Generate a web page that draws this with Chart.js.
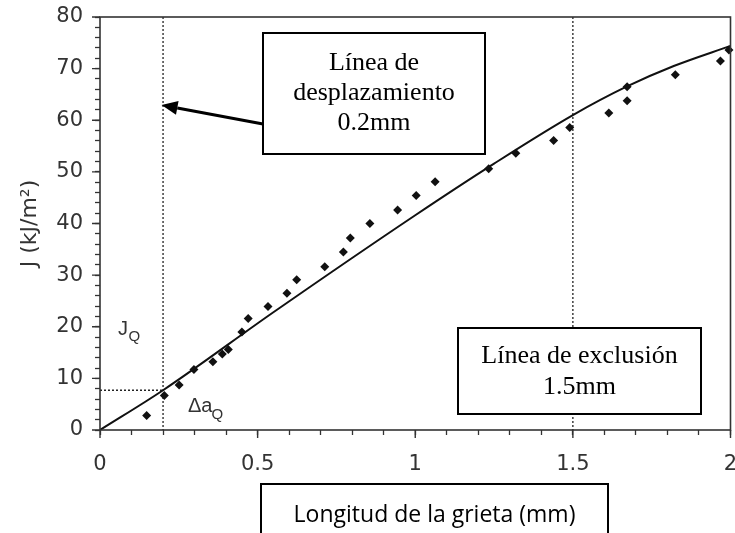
<!DOCTYPE html>
<html>
<head>
<meta charset="utf-8">
<script src="https://cdn.jsdelivr.net/npm/chart.js@4/dist/chart.umd.min.js"></script>
<style>
  html, body { margin: 0; padding: 0; background: #ffffff; }
  #wrap { width: 735px; height: 533px; position: relative; }
</style>
</head>
<body>
<div id="wrap"><canvas id="c" width="735" height="533"></canvas></div>
<script>
// Measured crack extension Δa (mm) and J-integral (kJ/m²)
const crackExt = [0.148, 0.204, 0.251, 0.298, 0.358, 0.388, 0.407, 0.450, 0.470, 0.533,
                  0.593, 0.624, 0.713, 0.772, 0.794, 0.856, 0.944, 1.003, 1.063, 1.233,
                  1.319, 1.439, 1.490, 1.614, 1.672, 1.672, 1.825, 1.968, 1.995];
const jMeasured = [2.8, 6.7, 8.7, 11.7, 13.2, 14.7, 15.6, 19.0, 21.6, 23.9,
                   26.5, 29.1, 31.6, 34.5, 37.2, 40.0, 42.6, 45.4, 48.1, 50.6,
                   53.6, 56.1, 58.6, 61.4, 63.8, 66.5, 68.8, 71.5, 73.6];

// Fitted J-R curve
const fitExt = [0, 0.2, 0.55, 1.0, 1.25, 1.5, 1.67, 1.82, 2.0];
const fitJ   = [0, 7.7, 22.8, 41.6, 51.6, 61.0, 66.5, 70.5, 74.4];

// Axis ticks
const xMajorTicks = [0, 0.5, 1, 1.5, 2];
const yMajorTicks = [0, 10, 20, 30, 40, 50, 60, 70, 80];

// Construction lines
const offsetLineAt = 0.2;     // 0.2 mm offset line
const exclusionLineAt = 1.5;  // 1.5 mm exclusion line
const jQ = 7.7;               // J at the offset intersection

const TICK_FONT = '"DejaVu Sans", sans-serif';
const SERIF = '"Liberation Serif", "Times New Roman", serif';
const LABEL_FONT = '"Liberation Sans", Arial, sans-serif';
const AXIS_COLOR = '#333';

function isMajor(v, list) {
  return list.some(m => Math.abs(m - v) < 1e-6);
}

function noScalePadding(s) {
  s.paddingLeft = 0; s.paddingRight = 0; s.paddingTop = 0; s.paddingBottom = 0;
}

const decor = {
  id: 'decor',
  beforeDatasetsDraw(chart) {
    const { ctx, chartArea: a, scales: { x, y } } = chart;
    ctx.save();
    ctx.strokeStyle = '#222';
    ctx.lineWidth = 1.3;
    ctx.setLineDash([2, 2]);
    const px02 = x.getPixelForValue(offsetLineAt);
    const px15 = x.getPixelForValue(exclusionLineAt);
    const pyQ = y.getPixelForValue(jQ);
    ctx.beginPath();
    ctx.moveTo(px02, a.top); ctx.lineTo(px02, a.bottom);
    ctx.moveTo(px15, a.top); ctx.lineTo(px15, a.bottom);
    ctx.moveTo(a.left, pyQ); ctx.lineTo(px02, pyQ);
    ctx.stroke();
    ctx.restore();
  },
  afterDatasetsDraw(chart) {
    const { ctx, chartArea: a, scales: { x, y } } = chart;
    ctx.save();

    // frame
    ctx.strokeStyle = AXIS_COLOR;
    ctx.lineWidth = 1.6;
    ctx.strokeRect(a.left, a.top, a.right - a.left, a.bottom - a.top);

    // longer marks at the labelled ticks
    ctx.lineWidth = 1.4;
    ctx.beginPath();
    xMajorTicks.forEach(v => {
      const p = x.getPixelForValue(v);
      ctx.moveTo(p, a.bottom); ctx.lineTo(p, a.bottom + 8);
    });
    yMajorTicks.forEach(v => {
      const p = y.getPixelForValue(v);
      ctx.moveTo(a.left, p); ctx.lineTo(a.left - 8, p);
    });
    ctx.stroke();

    // y axis title
    ctx.save();
    ctx.translate(30, (a.top + a.bottom) / 2);
    ctx.rotate(-Math.PI / 2);
    ctx.fillStyle = AXIS_COLOR;
    ctx.font = '22px ' + TICK_FONT;
    ctx.textAlign = 'center';
    ctx.textBaseline = 'middle';
    ctx.fillText('J (kJ/m²)', 0, 0);
    ctx.restore();

    // J_Q and Δa_Q labels
    ctx.fillStyle = AXIS_COLOR;
    ctx.textAlign = 'left';
    ctx.textBaseline = 'alphabetic';
    ctx.font = '20px ' + LABEL_FONT;
    ctx.fillText('J', 118, 335);
    ctx.fillText('Δa', 188, 411.5);
    ctx.font = '15px ' + LABEL_FONT;
    ctx.fillText('Q', 128.5, 341);
    ctx.fillText('Q', 211.5, 418.5);

    // arrow to the offset line
    const tipX = x.getPixelForValue(offsetLineAt) - 1.5;
    const tipY = 105;
    const tailX = 263, tailY = 124;
    const ang = Math.atan2(tipY - tailY, tipX - tailX);
    const headLen = 16, headHalf = 7;
    const bx = tipX - headLen * Math.cos(ang), by = tipY - headLen * Math.sin(ang);
    ctx.strokeStyle = '#000';
    ctx.lineWidth = 3;
    ctx.beginPath();
    ctx.moveTo(tailX, tailY); ctx.lineTo(bx, by);
    ctx.stroke();
    ctx.fillStyle = '#000';
    ctx.beginPath();
    ctx.moveTo(tipX, tipY);
    ctx.lineTo(bx + headHalf * Math.sin(ang), by - headHalf * Math.cos(ang));
    ctx.lineTo(bx - headHalf * Math.sin(ang), by + headHalf * Math.cos(ang));
    ctx.closePath();
    ctx.fill();

    // annotation boxes
    function box(x0, y0, x1, y1, lines, font) {
      ctx.fillStyle = '#fff';
      ctx.fillRect(x0, y0, x1 - x0, y1 - y0);
      ctx.strokeStyle = '#000';
      ctx.lineWidth = 2;
      ctx.strokeRect(x0, y0, x1 - x0, y1 - y0);
      ctx.fillStyle = '#000';
      ctx.font = font;
      ctx.textAlign = 'center';
      ctx.textBaseline = 'alphabetic';
      lines.forEach(l => ctx.fillText(l.t, (x0 + x1) / 2, l.y));
    }
    box(263, 33, 485, 154,
        [{ t: 'Línea de', y: 70 }, { t: 'desplazamiento', y: 99.5 }, { t: '0.2mm', y: 130 }],
        '26px ' + SERIF);
    box(458, 328, 701, 414,
        [{ t: 'Línea de exclusión', y: 362.5 }, { t: '1.5mm', y: 393.5 }],
        '26px ' + SERIF);
    box(261, 484, 608, 545,
        [{ t: 'Longitud de la grieta (mm)', y: 521.5 }],
        '23px "Open Sans", "Noto Sans", sans-serif');

    ctx.restore();
  }
};

// minor tick marks drawn by the scales themselves
const tickGrid = {
  display: true, drawOnChartArea: false, drawTicks: true,
  tickLength: 5, tickWidth: 1.3, tickColor: AXIS_COLOR
};

new Chart(document.getElementById('c'), {
  type: 'scatter',
  data: {
    datasets: [
      {
        label: 'Ajuste',
        data: fitExt.map((v, i) => ({ x: v, y: fitJ[i] })),
        showLine: true,
        borderColor: '#111',
        borderWidth: 2,
        pointRadius: 0,
        cubicInterpolationMode: 'monotone',
        order: 2
      },
      {
        label: 'Datos',
        data: crackExt.map((v, i) => ({ x: v, y: jMeasured[i] })),
        pointStyle: 'rectRot',
        pointRadius: 4.5,
        backgroundColor: '#111',
        borderColor: '#111',
        borderWidth: 0,
        clip: false,
        order: 1
      }
    ]
  },
  options: {
    responsive: false,
    animation: false,
    devicePixelRatio: 1,
    layout: { padding: { top: 17, right: 4, left: 0, bottom: 0 } },
    plugins: { legend: { display: false }, tooltip: { enabled: false } },
    scales: {
      x: {
        type: 'linear', min: 0, max: 2,
        grid: tickGrid,
        border: { display: false },
        ticks: {
          stepSize: 0.1, autoSkip: false, maxRotation: 0, minRotation: 0,
          color: AXIS_COLOR, padding: 17,
          font: { family: TICK_FONT, size: 21 },
          callback: v => isMajor(v, xMajorTicks) ? String(Math.round(v * 10) / 10) : ''
        },
        afterFit: s => { s.height = 103; noScalePadding(s); }
      },
      y: {
        type: 'linear', min: 0, max: 80,
        grid: tickGrid,
        border: { display: false },
        ticks: {
          stepSize: 2, autoSkip: false,
          color: AXIS_COLOR, padding: 12,
          font: { family: TICK_FONT, size: 21 },
          callback: v => isMajor(v, yMajorTicks) ? String(Math.round(v)) : ''
        },
        afterFit: s => { s.width = 100; noScalePadding(s); }
      }
    }
  },
  plugins: [decor]
});
</script>
</body>
</html>
